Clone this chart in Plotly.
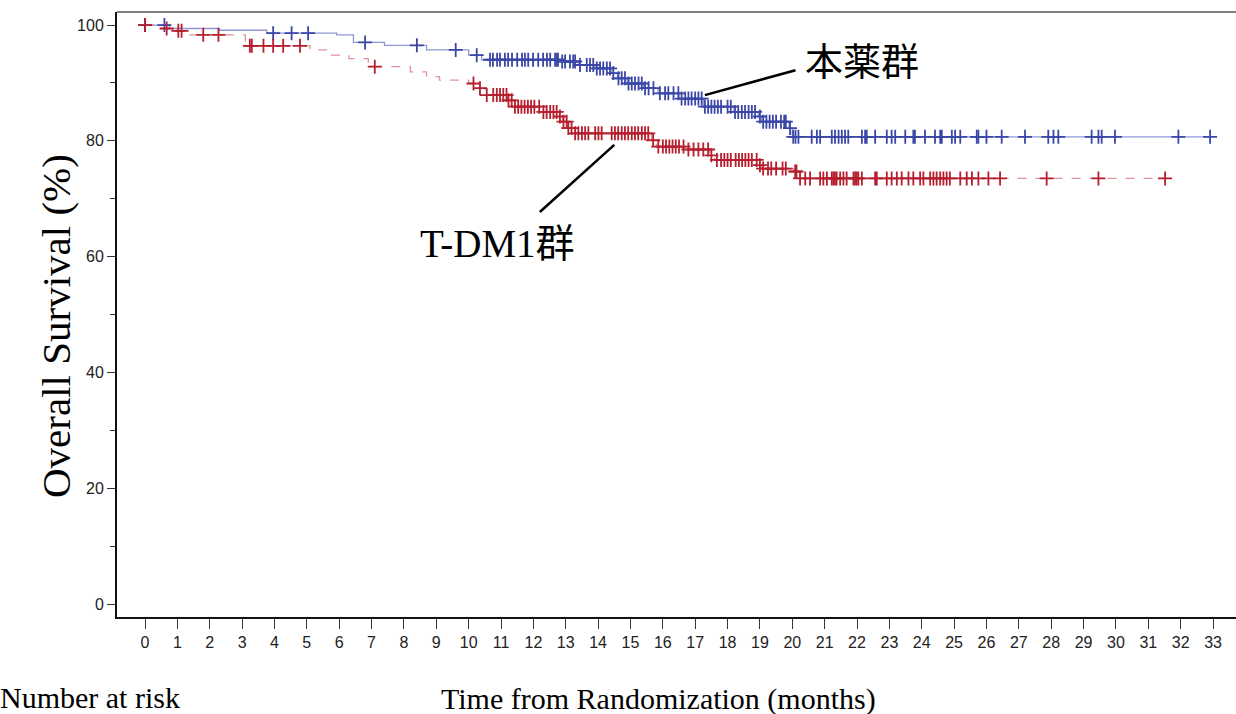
import numpy as np
import plotly.graph_objects as go

# ---- data ----
blue_step_t = [0, 0.75, 2.3, 3.76, 5.92, 6.44, 7.4, 8.7, 10.0, 10.4, 12.85, 13.4, 13.9, 14.4, 14.6, 14.9,
               15.4, 15.85, 16.5, 17.25, 18.2, 18.95, 19.05, 19.9, 20.0]
blue_step_s = [100, 99.4, 99.1, 98.6, 98.3, 97.0, 96.5, 95.7, 94.8, 94.0, 93.7, 93.1, 92.5, 91.7, 90.8, 89.9,
               89.1, 88.2, 87.3, 85.9, 85.0, 84.2, 83.3, 82.2, 80.7]
blue_end = 32.91
blue_cens = [0, 0.6, 3.96, 4.53, 5.04, 6.8, 8.4, 9.6, 10.25, 10.66, 10.75, 10.88, 10.97, 11.12, 11.22, 11.34,
             11.5, 11.65, 11.74, 11.84, 11.99, 12.15, 12.3, 12.42, 12.52, 12.67, 12.73, 12.76, 12.89, 12.98,
             13.13, 13.23, 13.29, 13.44, 13.65, 13.75, 13.85, 13.96, 14.06, 14.16, 14.27, 14.37, 14.47, 14.63,
             14.73, 14.83, 14.94, 15.04, 15.14, 15.25, 15.35, 15.45, 15.56, 15.71, 15.91, 16.07, 16.17, 16.33,
             16.48, 16.58, 16.69, 16.79, 16.89, 17.0, 17.1, 17.2, 17.3, 17.4, 17.5, 17.6, 17.7, 17.8, 18.0,
             18.1, 18.23, 18.33, 18.44, 18.54, 18.65, 18.75, 18.85, 19.0, 19.1, 19.2, 19.3, 19.4, 19.5, 19.65,
             19.75, 19.8, 19.93, 20.03, 20.1, 20.19, 20.6, 20.76, 20.86, 21.22, 21.32, 21.43, 21.53, 21.63,
             21.73, 22.15, 22.25, 22.3, 22.56, 22.92, 23.07, 23.18, 23.49, 23.74, 23.79, 24.1, 24.41, 24.57,
             24.62, 24.93, 25.03, 25.19, 25.7, 25.75, 26.0, 26.47, 27.19, 27.91, 28.07, 28.22, 29.25, 29.46,
             29.56, 29.97, 31.93, 32.91]

red_step_t = [0, 0.3, 1.0, 1.3, 3.1, 5.1, 5.7, 6.3, 6.9, 8.2, 8.7, 9.1, 10.0, 10.3, 10.5, 11.2, 11.4, 12.25,
              12.8, 12.9, 13.05, 13.25, 15.65, 15.8, 16.7, 17.45, 17.6, 18.95, 19.05, 20.05, 20.2]
red_step_s = [100, 99.4, 99.0, 98.3, 96.4, 95.7, 94.8, 94.2, 92.8, 91.9, 91.1, 90.5, 89.9, 89.1, 87.9, 87.0,
              85.9, 85.0, 84.2, 83.3, 82.2, 81.3, 80.1, 79.0, 78.5, 77.5, 76.7, 75.8, 75.2, 74.7, 73.5]
red_end = 31.52
red_cens = [0, 0.67, 1.03, 1.13, 1.8, 2.27, 3.24, 3.3, 3.66, 3.96, 4.27, 4.79, 7.1, 10.15, 10.35, 10.56,
            10.76, 10.87, 10.97, 11.07, 11.17, 11.23, 11.33, 11.43, 11.53, 11.63, 11.73, 11.83, 11.93, 12.03,
            12.18, 12.31, 12.41, 12.52, 12.62, 12.72, 12.82, 12.93, 13.03, 13.08, 13.18, 13.29, 13.39, 13.5,
            13.6, 13.7, 13.91, 14.01, 14.11, 14.42, 14.52, 14.62, 14.73, 14.83, 14.93, 15.04, 15.14, 15.24,
            15.35, 15.45, 15.55, 15.7, 15.86, 16.0, 16.1, 16.2, 16.3, 16.4, 16.5, 16.64, 16.79, 16.95, 17.1,
            17.25, 17.4, 17.5, 17.67, 17.8, 17.9, 18.0, 18.1, 18.25, 18.35, 18.45, 18.55, 18.65, 18.75, 18.9,
            19.0, 19.1, 19.25, 19.35, 19.5, 19.7, 19.8, 20.09, 20.13, 20.24, 20.4, 20.55, 20.86, 20.96, 21.07,
            21.22, 21.27, 21.32, 21.37, 21.48, 21.58, 21.68, 21.89, 21.94, 21.99, 22.04, 22.15, 22.56, 22.61,
            22.92, 23.07, 23.23, 23.38, 23.59, 23.74, 23.95, 24.05, 24.26, 24.36, 24.46, 24.57, 24.67, 24.77,
            24.87, 25.19, 25.39, 25.55, 25.75, 26.06, 26.42, 27.86, 29.46, 31.52]

x_ticks = list(range(0, 34))
y_ticks = [0, 20, 40, 60, 80, 100]

BLUE = "#3b47a6"
RED = "#b51f2e"
BLUE_LINE = "rgba(110,115,200,0.75)"
RED_LINE = "rgba(215,120,130,0.8)"


def surv_at(t_list, s_list, t):
    idx = np.searchsorted(np.array(t_list), t, side="right") - 1
    return s_list[max(idx, 0)]


fig = go.Figure()

for st, ss, end, cens, lc, mc, dash, name in [
    (blue_step_t, blue_step_s, blue_end, blue_cens, BLUE_LINE, BLUE, "solid", "本薬群"),
    (red_step_t, red_step_s, red_end, red_cens, RED_LINE, RED, "dash", "T-DM1群"),
]:
    fig.add_trace(go.Scatter(x=list(st) + [end], y=list(ss) + [ss[-1]], mode="lines",
                             line=dict(shape="hv", color=lc, width=1.3, dash=dash),
                             showlegend=False, name=name, hoverinfo="skip"))
    fig.add_trace(go.Scatter(x=cens, y=[surv_at(st, ss, c) for c in cens], mode="markers",
                             marker=dict(symbol="cross-thin", size=10, line=dict(color=mc, width=1.8)),
                             showlegend=False, name=name))

serif = "Liberation Serif, Times New Roman, Noto Sans CJK JP, serif"

# callouts
fig.add_shape(type="line", x0=17.3, y0=87.9, x1=20.1, y1=92.2, line=dict(color="black", width=2.5))
fig.add_shape(type="line", x0=12.2, y0=67.7, x1=14.5, y1=79.3, line=dict(color="black", width=2.5))
fig.add_annotation(x=22.15, y=93.7, text="本薬群", showarrow=False,
                   font=dict(family=serif, size=38, color="black"))
fig.add_annotation(x=10.9, y=62.3, text="T-DM1群", showarrow=False,
                   font=dict(family=serif, size=39, color="black"))

# top frame
fig.add_shape(type="line", xref="paper", yref="paper", x0=0, x1=1, y0=1, y1=1,
              line=dict(color="#555", width=1.5))

L, T, R, B = 117, 12, 0, 97
W, H = 1236, 714
pw, ph = W - L - R, H - T - B

fig.add_annotation(xref="paper", yref="paper", x=(31 - L) / pw, y=(617 - 326) / ph, text="Overall Survival (%)",
                   textangle=-90, showarrow=False, font=dict(family=serif, size=41, color="black"))
fig.add_annotation(xref="paper", yref="paper", x=(658 - L) / pw, y=(617 - 699) / ph, yanchor="middle",
                   text="Time from Randomization (months)", showarrow=False,
                   font=dict(family=serif, size=30, color="black"))
fig.add_annotation(xref="paper", yref="paper", x=(-2 - L) / pw, y=(617 - 697) / ph, xanchor="left",
                   yanchor="middle", text="Number at risk", showarrow=False,
                   font=dict(family=serif, size=30, color="black"))

tickfont = dict(family="Liberation Sans, Arial, sans-serif", size=16, color="#222")
fig.update_layout(
    width=W, height=H, margin=dict(l=L, r=R, t=T, b=B),
    plot_bgcolor="white", paper_bgcolor="white",
    xaxis=dict(range=[-0.865, 33.71], tickvals=x_ticks, ticktext=[str(v) for v in x_ticks],
               showgrid=False, zeroline=False, showline=True, linecolor="#111", linewidth=2,
               ticks="outside", ticklen=10, tickcolor="#333", tickwidth=1, tickfont=tickfont),
    yaxis=dict(range=[-2.24, 102.25], tickvals=y_ticks, ticktext=[str(v) for v in y_ticks],
               showgrid=False, zeroline=False, showline=True, linecolor="#111", linewidth=2,
               ticks="outside", ticklen=8, tickcolor="#333", tickwidth=1, tickfont=tickfont,
               minor=dict(tickvals=[10, 30, 50, 70, 90], ticks="outside", ticklen=5, tickcolor="#333")),
)

fig.write_html("out.html")
